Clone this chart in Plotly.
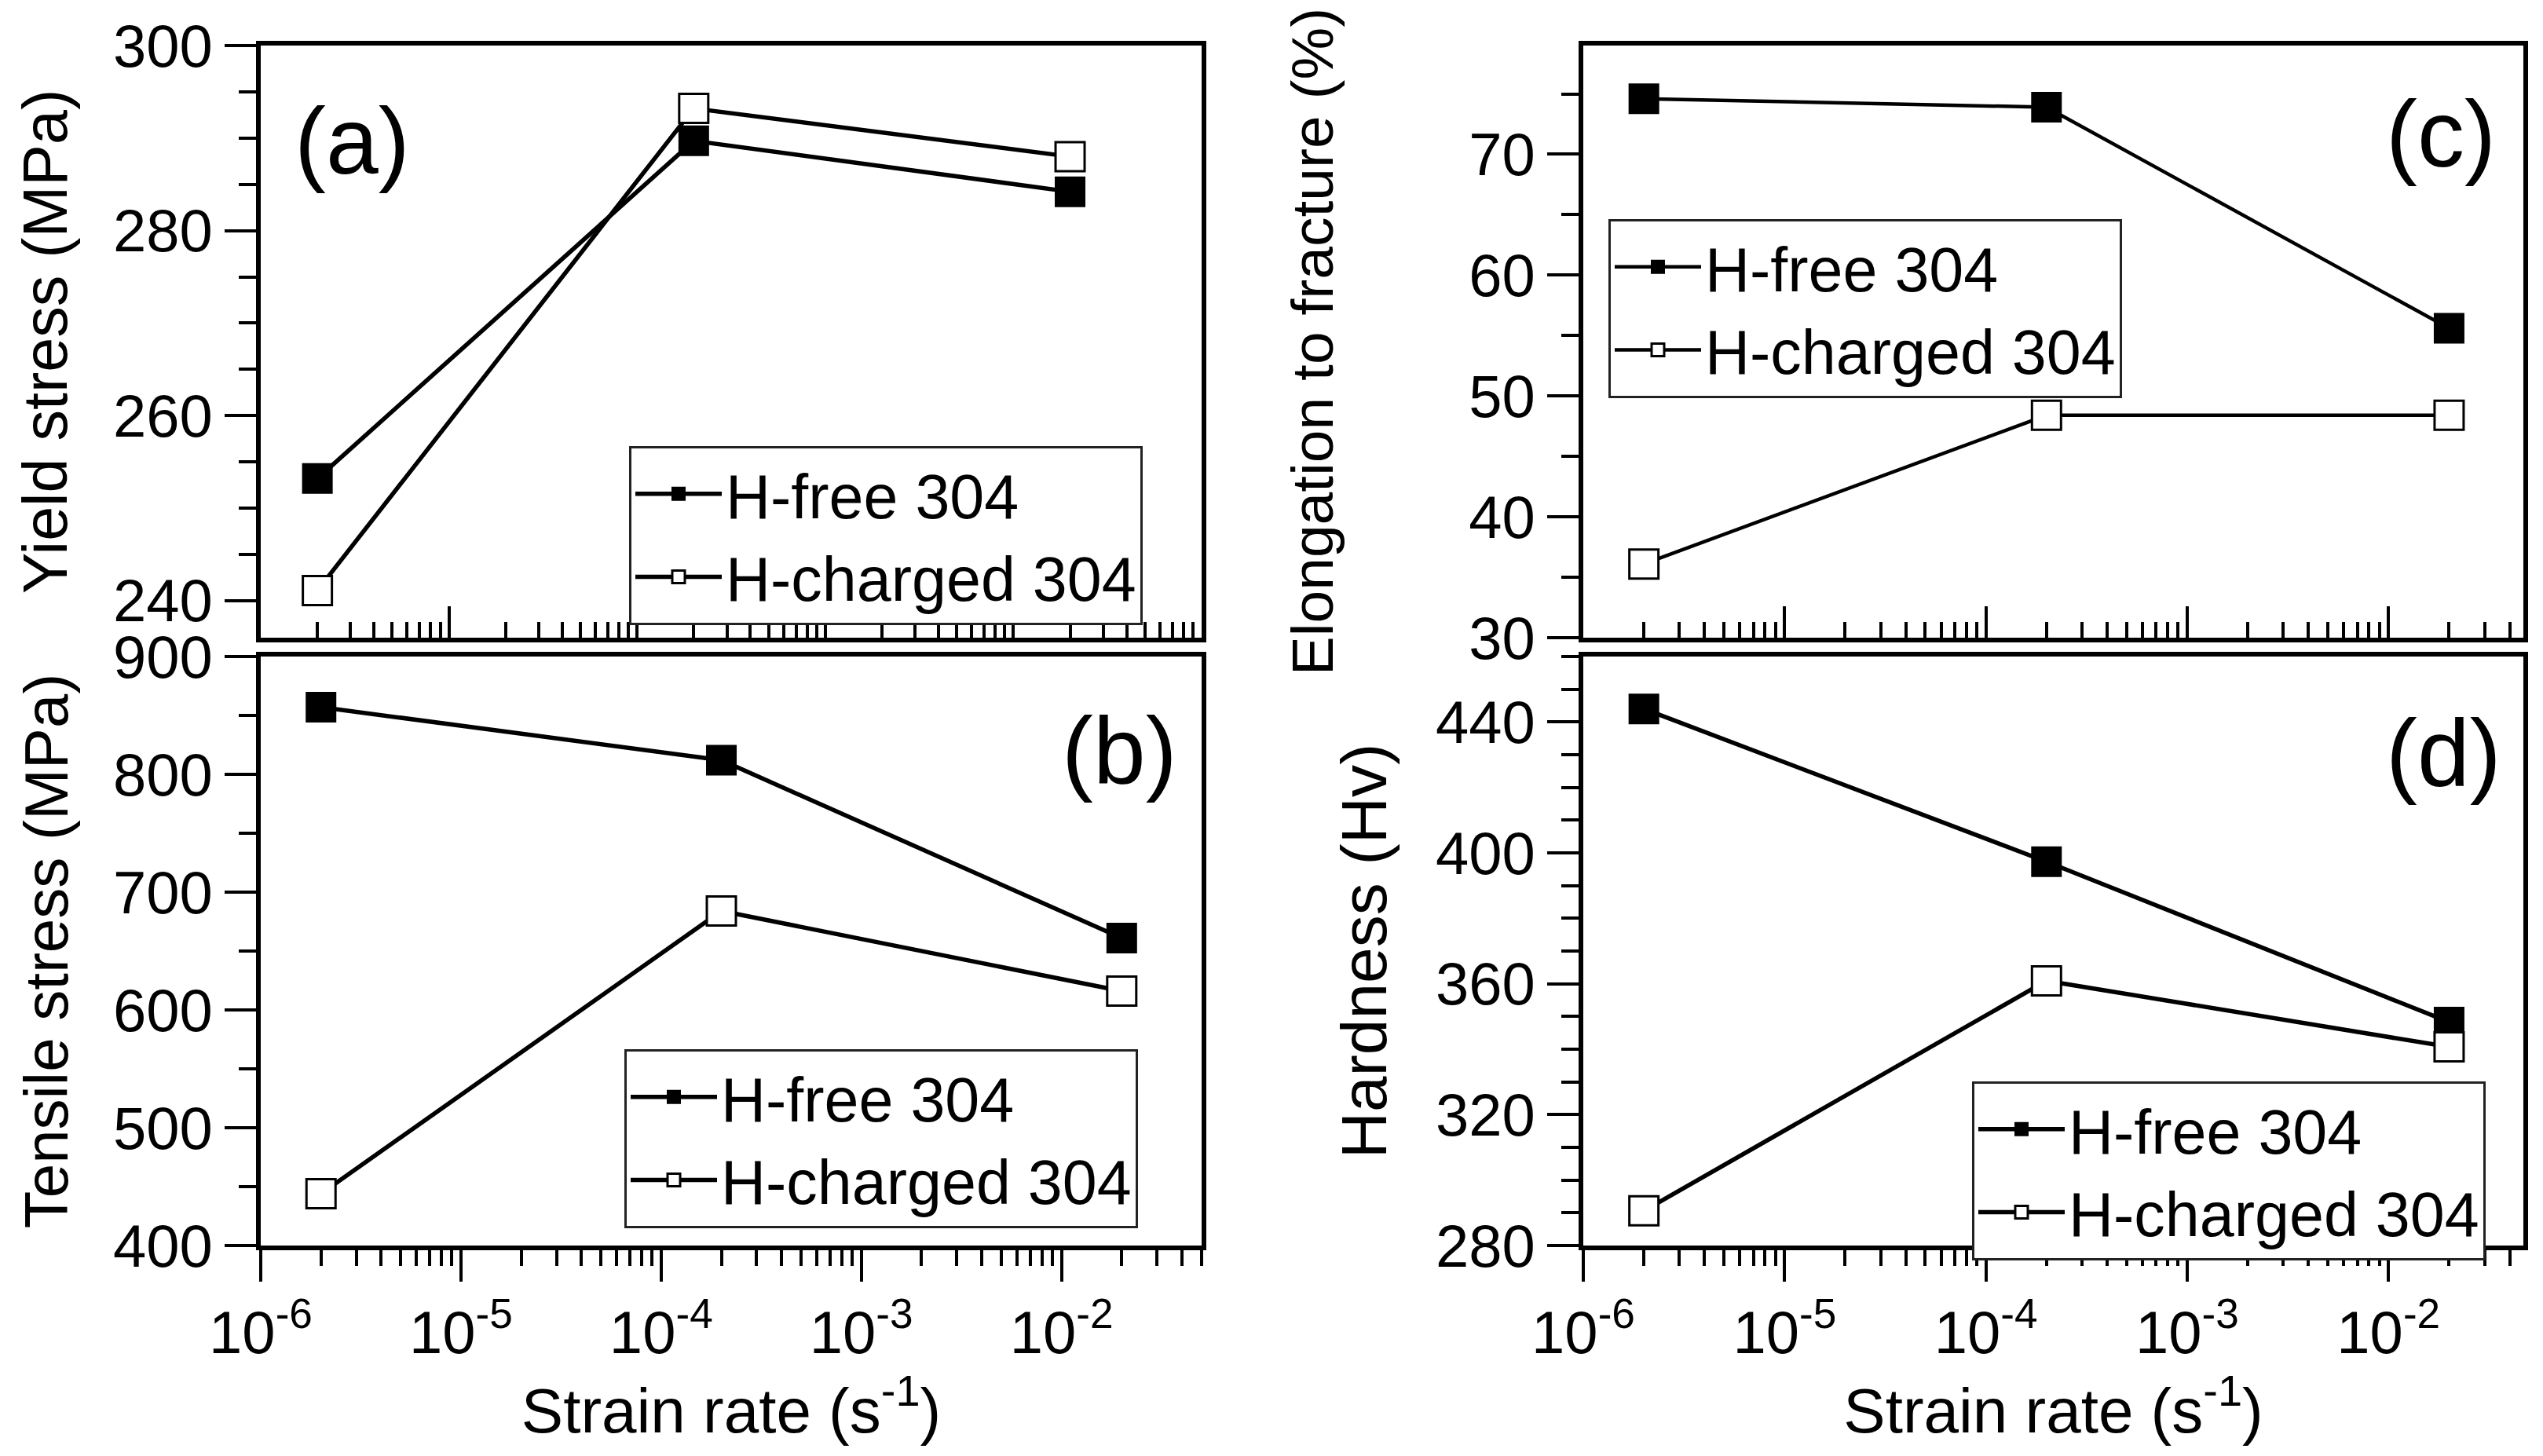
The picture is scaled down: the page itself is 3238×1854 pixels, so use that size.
import plotly.graph_objects as go

# ---------------- data ----------------
strain_rate = [2e-6, 2e-4, 2e-2]
series_names = ["H-free 304", "H-charged 304"]

yield_free = [253.2, 289.7, 284.2]
yield_charged = [241.1, 293.2, 288.0]
tensile_free = [857, 812, 661]
tensile_charged = [444, 684, 616]
elong_free = [74.6, 73.9, 55.6]
elong_charged = [36.1, 48.4, 48.4]
hard_free = [444.0, 397.3, 348.3]
hard_charged = [290.6, 360.9, 340.7]

x_major = [1e-6, 1e-5, 1e-4, 1e-3, 1e-2]
x_major_text = ["10<sup>-6</sup>", "10<sup>-5</sup>", "10<sup>-4</sup>",
                "10<sup>-3</sup>", "10<sup>-2</sup>"]
panel_labels = ["(a)", "(b)", "(c)", "(d)"]
y_titles = ["Yield stress (MPa)", "Tensile stress (MPa)",
            "Elongation to fracture (%)", "Hardness (Hv)"]
x_title = "Strain rate (s<sup>-1</sup>)"

# ---------------- layout geometry ----------------
W, H = 3238, 1854
FONT = "Liberation Sans, Arial, sans-serif"

def px_x(v):
    return v / W

def px_y(v):
    return 1 - v / H

xd_left = [px_x(332), px_x(1530)]
xd_right = [px_x(2016), px_x(3213)]
yd_top = [px_y(812), px_y(58)]
yd_bot = [px_y(1586), px_y(836)]

minor_x = [m * 10.0 ** d for d in range(-6, 0) for m in range(2, 10)]

fig = go.Figure()

panels = [
    ("x", "y", yield_free, yield_charged, "legend"),
    ("x2", "y2", tensile_free, tensile_charged, "legend2"),
    ("x3", "y3", elong_free, elong_charged, "legend3"),
    ("x4", "y4", hard_free, hard_charged, "legend4"),
]

line_w = [5.5, 5.5, 4.5, 5.5]
for i, (xa, ya, free, charged, lg) in enumerate(panels):
    fig.add_trace(go.Scatter(
        x=strain_rate, y=free, name=series_names[0], xaxis=xa, yaxis=ya,
        mode="lines+markers", legend=lg,
        line=dict(color="black", width=line_w[i]),
        marker=dict(symbol="square", size=37, color="black",
                    line=dict(color="black", width=2)),
    ))
    fig.add_trace(go.Scatter(
        x=strain_rate, y=charged, name=series_names[1], xaxis=xa, yaxis=ya,
        mode="lines+markers", legend=lg,
        line=dict(color="black", width=line_w[i]),
        marker=dict(symbol="square", size=37, color="white",
                    line=dict(color="black", width=3)),
    ))


def xaxis(domain, anchor, rng, inside):
    return dict(
        domain=domain, anchor=anchor, type="log", range=rng,
        automargin=False,
        showline=True, linecolor="black", linewidth=6, mirror=True,
        showgrid=False, zeroline=False,
        ticks="inside" if inside else "outside",
        ticklen=40, tickwidth=4, tickcolor="black",
        tickmode="array", tickvals=x_major, ticktext=x_major_text,
        showticklabels=not inside,
        tickfont=dict(family=FONT, size=76, color="black"),
        minor=dict(tickmode="array", tickvals=minor_x,
                   ticks="inside" if inside else "outside",
                   ticklen=20, tickwidth=4, tickcolor="black", showgrid=False),
        title=dict(text=None if inside else x_title,
                   font=dict(family=FONT, size=80, color="black"),
                   standoff=0),
    )


def yaxis(domain, anchor, rng, dtick, minor_dtick, title, tsize, standoff):
    return dict(
        domain=domain, anchor=anchor, range=rng,
        automargin=False,
        showline=True, linecolor="black", linewidth=6, mirror=True,
        showgrid=False, zeroline=False,
        ticks="outside", ticklen=40, tickwidth=4, tickcolor="black",
        dtick=dtick, tick0=0,
        tickfont=dict(family=FONT, size=76, color="black"),
        minor=dict(dtick=minor_dtick, tick0=0, ticks="outside", ticklen=22,
                   tickwidth=4, tickcolor="black", showgrid=False),
        title=dict(text=title, font=dict(family=FONT, size=tsize, color="black"),
                   standoff=standoff),
    )


def legend(x, y):
    return dict(
        x=x, y=y, xanchor="left", yanchor="top",
        bgcolor="white", bordercolor="#222", borderwidth=3,
        font=dict(family=FONT, size=79, color="black"),
        traceorder="normal", itemsizing="trace", tracegroupgap=0,
        itemwidth=110,
    )


fig.update_layout(
    width=W, height=H,
    margin=dict(l=0, r=0, t=0, b=0, autoexpand=False),
    paper_bgcolor="white", plot_bgcolor="white",
    font=dict(family=FONT, color="black"),
    showlegend=True,
    xaxis=xaxis(xd_left, "y", [-6, -1.0], True),
    yaxis=yaxis(yd_top, "x", [236, 300], 20, 5, y_titles[0], 79, 34),
    xaxis2=xaxis(xd_left, "y2", [-6, -1.3], False),
    yaxis2=yaxis(yd_bot, "x2", [400, 900], 100, 50, y_titles[1], 78, 34),
    xaxis3=xaxis(xd_right, "y3", [-6, -1.33], True),
    yaxis3=yaxis(yd_top, "x3", [30, 79], 10, 5, y_titles[2], 75, 150),
    xaxis4=xaxis(xd_right, "y4", [-6, -1.33], False),
    yaxis4=yaxis(yd_bot, "x4", [280, 460], 40, 10, y_titles[3], 82, 37),
    legend=legend(px_x(801), px_y(568)),
    legend2=legend(px_x(795), px_y(1336)),
    legend3=legend(px_x(2048), px_y(279)),
    legend4=legend(px_x(2511), px_y(1377)),
)

label_pos = [(373, 179), (1350, 955), (3036, 170), (3036, 958)]
for txt, (lx, ly) in zip(panel_labels, label_pos):
    fig.add_annotation(
        text=txt, x=px_x(lx), y=px_y(ly), xref="paper", yref="paper",
        xanchor="left", yanchor="middle", showarrow=False,
        font=dict(family=FONT, size=120, color="black"),
    )

fig.write_html("out.html", config={"displayModeBar": False},
               post_script="document.body.style.margin='0';")
